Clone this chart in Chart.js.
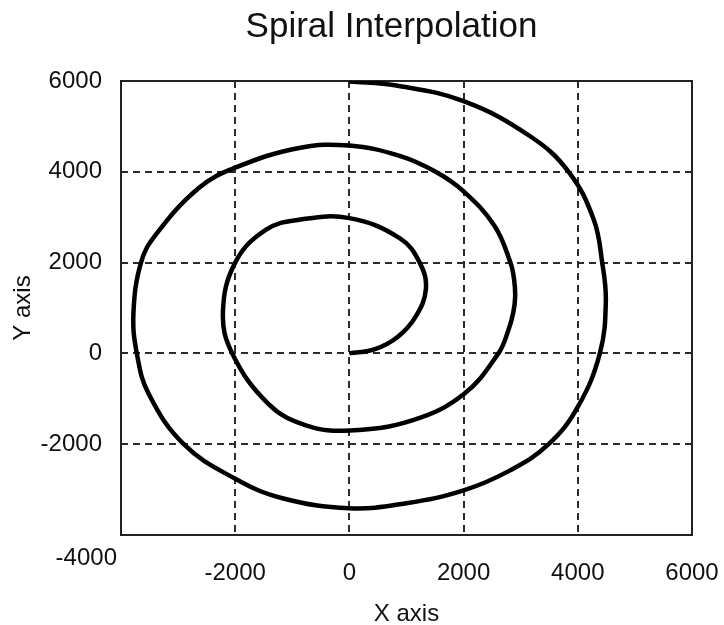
<!DOCTYPE html>
<html>
<head>
<meta charset="utf-8">
<title>Spiral Interpolation</title>
<script src="https://cdn.jsdelivr.net/npm/chart.js@4.4.1/dist/chart.umd.min.js"></script>
<style>
  html, body { margin: 0; padding: 0; background: #fff; }
  #wrap { position: relative; width: 724px; height: 625px; }
</style>
</head>
<body>
<div id="wrap"><canvas id="spiralChart"></canvas></div>
<script>
// Tool path samples, counter-clockwise outwards from the origin
const pathX = [
    0, 450, 850, 1160, 1340, 1231, 880, 0, -880, -1466,
    -2000, -2215, -2052, -1420, -762, 0, 1114, 2000, 2610, 2785,
    2870, 2903, 2885, 2820, 2540, 2000, 1510, 880, 0, -880,
    -2000, -2638, -3400, -3650, -3782, -3723, -3518, -2902, -2000, -1173,
    0, 997, 2000, 2814, 3489, 4000, 4386, 4491, 4427, 4280,
    3840, 3166, 2000, 821, 0
];
const pathY = [
    0, 95, 367, 808, 1420, 2000, 2539, 2980, 2943, 2722,
    2000, 900, 0, -1110, -1583, -1700, -1470, -900, 0, 514,
    900, 1250, 1620, 2000, 2810, 3569, 4000, 4350, 4577, 4526,
    4090, 3643, 2600, 2000, 890, 0, -883, -2000, -2760, -3190,
    -3410, -3300, -3018, -2577, -2000, -1180, 0, 1150, 2000, 2943,
    4000, 4783, 5556, 5900, 5990
];

// Axis range shared by both axes
const axisMin = -4000;
const axisMax = 6000;
const tickStep = 2000;

const chartTitle = 'Spiral Interpolation';
const FONT = "'Liberation Sans', Arial, Helvetica, sans-serif";

// Grid lines only between the edges; the frame covers the outer ones
function gridColor(ctx) {
    if (!ctx.tick) return '#2b2b2b';
    const v = ctx.tick.value;
    return (v === axisMin || v === axisMax) ? 'rgba(0,0,0,0)' : '#2b2b2b';
}

function tickLabel(v) {
    return v === axisMin ? '' : String(v);
}

// Box around the plot, the title and the shared corner label
const framePlugin = {
    id: 'frame',
    beforeDatasetsDraw(chart) {
        const { ctx, chartArea } = chart;
        ctx.save();
        ctx.strokeStyle = '#222';
        ctx.lineWidth = 2;
        ctx.strokeRect(chartArea.left, chartArea.top,
            chartArea.right - chartArea.left, chartArea.bottom - chartArea.top);
        ctx.restore();
    },
    afterDraw(chart) {
        const { ctx, chartArea } = chart;
        ctx.save();
        ctx.fillStyle = '#111';

        ctx.font = '35px ' + FONT;
        ctx.textAlign = 'center';
        ctx.textBaseline = 'alphabetic';
        ctx.fillText(chartTitle, (chartArea.left + chartArea.right) / 2 - 15, 37);

        ctx.font = '24px ' + FONT;
        ctx.textAlign = 'right';
        ctx.textBaseline = 'middle';
        ctx.fillText(String(axisMin), chartArea.left - 4, chartArea.bottom + 23);
        ctx.restore();
    }
};

const points = pathX.map((x, i) => ({ x: x, y: pathY[i] }));

const spiralChart = new Chart(document.getElementById('spiralChart'), {
    type: 'scatter',
    data: {
        datasets: [{
            data: points,
            showLine: true,
            borderColor: '#000',
            borderWidth: 4.5,
            pointRadius: 0,
            tension: 0.4,
            capBezierPoints: false,
            fill: false
        }]
    },
    options: {
        responsive: true,
        maintainAspectRatio: false,
        animation: false,
        layout: { padding: { top: 81, right: 32, bottom: 0, left: 0 } },
        plugins: {
            legend: { display: false },
            tooltip: { enabled: false },
            title: { display: false }
        },
        scales: {
            x: {
                type: 'linear',
                min: axisMin,
                max: axisMax,
                afterFit: scale => {
                    scale.height = 90;
                    scale.paddingLeft = 0;
                    scale.paddingRight = 0;
                },
                ticks: {
                    stepSize: tickStep,
                    autoSkip: false,
                    maxRotation: 0,
                    padding: 24,
                    color: '#111',
                    font: { family: FONT, size: 24 },
                    callback: tickLabel
                },
                grid: { color: gridColor, lineWidth: 2, drawTicks: false },
                border: { display: false, dash: [7, 5] },
                title: {
                    display: true,
                    text: 'X axis',
                    color: '#111',
                    font: { family: FONT, size: 24 },
                    padding: { top: 0, bottom: -4 }
                }
            },
            y: {
                type: 'linear',
                min: axisMin,
                max: axisMax,
                afterFit: scale => { scale.width = 121; },
                ticks: {
                    stepSize: tickStep,
                    autoSkip: false,
                    padding: 19,
                    color: '#111',
                    font: { family: FONT, size: 24 },
                    callback: tickLabel
                },
                grid: { color: gridColor, lineWidth: 2, drawTicks: false },
                border: { display: false, dash: [7, 5] },
                title: {
                    display: true,
                    text: 'Y axis',
                    color: '#111',
                    font: { family: FONT, size: 24 },
                    padding: { top: 9, bottom: 0 }
                }
            }
        }
    },
    plugins: [framePlugin]
});
</script>
</body>
</html>
